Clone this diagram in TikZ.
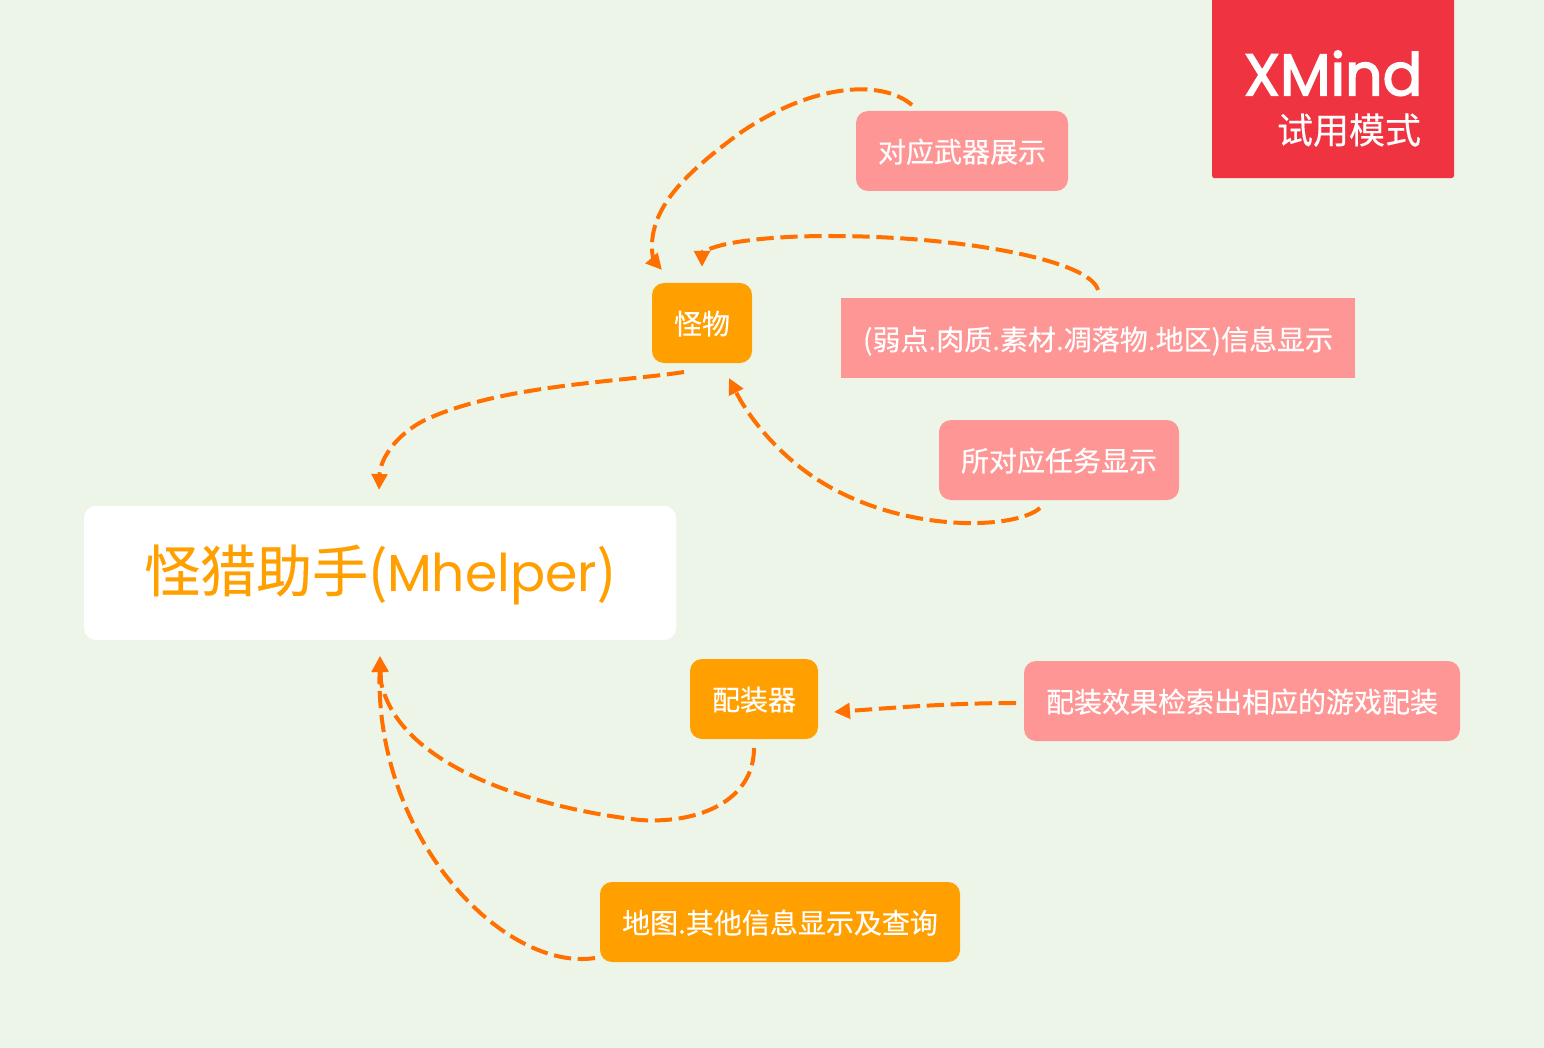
\documentclass[tikz,border=0pt]{standalone}
\usepackage{fontspec}
\setmainfont[FakeBold=0.3]{Noto Sans CJK SC}
\newfontfamily\latinfont{Poppins}
\newfontfamily\logofont[FakeBold=2.5]{Poppins}
\usetikzlibrary{arrows.meta}
\definecolor{bgc}{HTML}{EDF5E8}
\definecolor{orangebox}{HTML}{FFA000}
\definecolor{pinkbox}{HTML}{FF9696}
\definecolor{logored}{HTML}{EF3340}
\definecolor{linkc}{HTML}{FF7000}
\newcommand{\lowtext}[2][0.5pt]{\raisebox{-#1}[\height][\depth]{#2}}
\tikzset{
  x=0.75pt,y=-0.75pt,
  card/.style={rectangle,rounded corners=9pt,inner sep=0pt,text=white,font=\fontsize{21}{25}\selectfont,minimum height=60pt},
  orangecard/.style={card,fill=orangebox},
  pinkcard/.style={card,fill=pinkbox},
  link/.style={draw=linkc,line width=3pt,dash pattern=on 13pt off 5pt,-{Triangle[length=12pt,width=11.5pt,fill=linkc]}},
}
\begin{document}
\begin{tikzpicture}
\path[use as bounding box,fill=bgc] (0,0) rectangle (1544,1048);
% logo
\node[rectangle,rounded corners=2pt,fill=logored,inner sep=0pt,minimum width=181.5pt,minimum height=136pt] (logo) at (1333,87.5) {};
\node[inner sep=0pt,text=white,text depth=0pt,font=\logofont\fontsize{44}{52}\selectfont] (xmind) at (1333,73) {XMind};
\node[inner sep=0pt,text=white,font=\fontsize{27}{32}\selectfont] (trial) at (1349,130) {试用模式};
% nodes
\node[card,fill=white,text=orangebox,minimum width=444pt,minimum height=100.5pt,font=\fontsize{42}{50}\selectfont] (main) at (380,573) {\lowtext[1.5pt]{怪猎助手({\latinfont\fontsize{39}{50}\selectfont Mhelper})}};
\node[orangecard,minimum width=75pt] (monster) at (702,323) {\lowtext{怪物}};
\node[orangecard,minimum width=96pt] (gear) at (754,699) {\lowtext{配装器}};
\node[orangecard,minimum width=270pt] (map) at (780,922) {\lowtext{地图.其他信息显示及查询}};
\node[pinkcard,minimum width=159pt] (weapon) at (962,151) {\lowtext{对应武器展示}};
\node[pinkcard,rounded corners=0pt,minimum width=385.5pt] (info) at (1098,338) {\lowtext[2.2pt]{(弱点.肉质.素材.凋落物.地区)信息显示}};
\node[pinkcard,minimum width=180pt] (quest) at (1059,460) {\lowtext{所对应任务显示}};
\node[pinkcard,minimum width=327pt] (search) at (1242,701) {\lowtext{配装效果检索出相应的游戏配装}};
% connector ends
\coordinate (w0) at (912,105);
\coordinate (w1) at (662,270);
\coordinate (i0) at (1098,290);
\coordinate (i1) at (702,267);
\coordinate (q0) at (1040,508);
\coordinate (q1) at (729,378);
\coordinate (m0) at (684,372);
\coordinate (m1) at (379,490);
\coordinate (s0) at (1016,703);
\coordinate (s1) at (834,712);
\coordinate (g0) at (754,748);
\coordinate (g1) at (380,656);
\coordinate (p0) at (595,958);
% connectors
\draw[link] (w0) .. controls (880,78) and (810,85) .. (740,133) .. controls (690,170) and (650,205) .. (652,250) .. controls (652,256) and (655,262) .. (w1);
\draw[link] (i0) .. controls (1090,260) and (960,236) .. (830,236) .. controls (780,236) and (735,240) .. (712,248) .. controls (706,250) and (702,252) .. (i1);
\draw[link] (q0) .. controls (1015,530) and (900,534) .. (815,478) .. controls (780,455) and (750,420) .. (q1);
\draw[link] (m0) .. controls (620,382) and (500,385) .. (425,420) .. controls (395,435) and (380,460) .. (m1);
\draw[link] (s0) .. controls (950,703) and (890,708) .. (s1);
\draw[link] (g0) .. controls (754,800) and (700,824) .. (640,820) .. controls (550,810) and (400,772) .. (381,682) -- (g1);
\draw[link] (p0) .. controls (505,972) and (375,840) .. (g1);
\end{tikzpicture}
\end{document}
